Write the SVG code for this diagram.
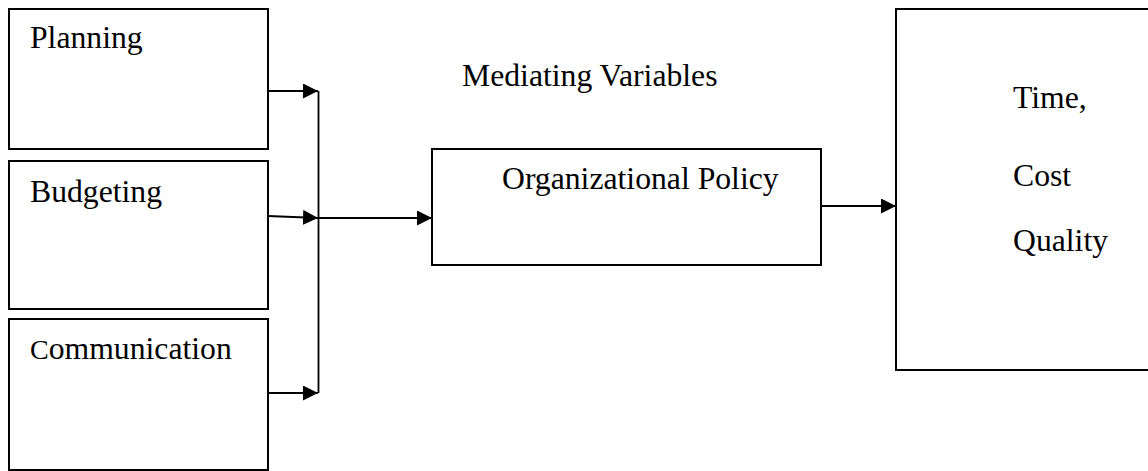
<svg xmlns="http://www.w3.org/2000/svg" width="1148" height="471" viewBox="0 0 1148 471">
<style>
.box{fill:#fff;stroke:#000;stroke-width:2}
.t{font-family:"Liberation Serif","Times New Roman",serif;font-size:31.7px;fill:#000}
.c{fill:none;stroke:#000;stroke-width:2.2}
.v{fill:none;stroke:#000;stroke-width:1.8}
</style>
<defs>
<marker id="ah" markerUnits="userSpaceOnUse" markerWidth="16" markerHeight="16" refX="15" refY="7.5" orient="auto">
<path d="M0,0 L15,7.5 L0,15 Z" fill="#000"/>
</marker>
</defs>
<rect width="1148" height="471" fill="#fff"/>
<g id="planning">
<rect class="box" x="9" y="9" width="259" height="140"/>
<text class="t" x="30" y="48">Planning</text>
</g>
<g id="budgeting">
<rect class="box" x="9" y="161" width="259" height="148"/>
<text class="t" x="30" y="202">Budgeting</text>
</g>
<g id="communication">
<rect class="box" x="9" y="319" width="259" height="151"/>
<text class="t" x="30" y="359"><tspan font-size="28px">C</tspan>ommunication</text>
</g>
<g id="mediating-label">
<text class="t" x="462" y="86">Mediating Variables</text>
</g>
<g id="org-policy">
<rect class="box" x="432" y="149" width="389" height="116"/>
<text class="t" x="502" y="189">Organizational Policy</text>
</g>
<g id="outcomes">
<rect class="box" x="896" y="9" width="262" height="361"/>
<text class="t" x="1013" y="108">Time,</text>
<text class="t" x="1013" y="186">Cost</text>
<text class="t" x="1013" y="251">Quality</text>
</g>
<g id="connectors">
<line class="v" x1="318.5" y1="91" x2="318.5" y2="393"/>
<line class="c" x1="268" y1="91" x2="318" y2="91" marker-end="url(#ah)"/>
<line class="c" x1="268" y1="216" x2="318" y2="218" marker-end="url(#ah)"/>
<line class="c" x1="268" y1="393" x2="318" y2="393" marker-end="url(#ah)"/>
<line class="c" x1="318" y1="218" x2="432" y2="218" marker-end="url(#ah)"/>
<line class="c" x1="821" y1="206" x2="896" y2="206" marker-end="url(#ah)"/>
</g>
</svg>
